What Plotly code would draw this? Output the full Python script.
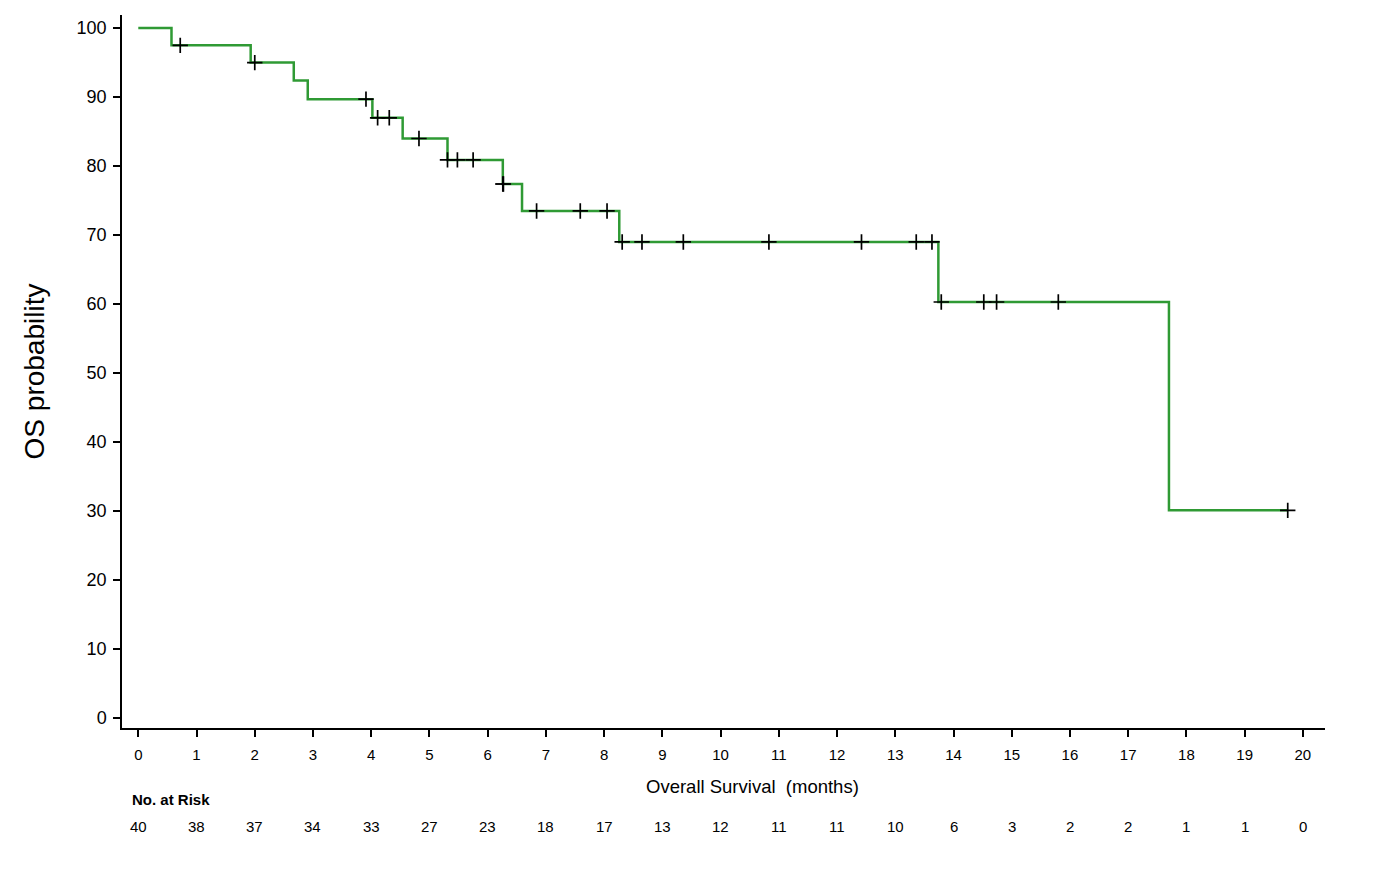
import plotly.graph_objects as go

# Kaplan-Meier step curve (event times in months, survival % after each drop)
event_times = [0.57, 1.93, 2.67, 2.91, 4.02, 4.54, 5.31, 6.26, 6.59, 8.26, 13.74, 17.70]
survival = [97.5, 95.0, 92.4, 89.7, 87.0, 84.0, 80.9, 77.4, 73.5, 69.0, 60.3, 30.1]

# Censored observations (months)
censor_times = [0.72, 2.00, 3.91, 4.11, 4.31, 4.82, 5.31, 5.48, 5.75, 6.26, 6.27,
                6.84, 7.59, 8.05, 8.31, 8.65, 9.36, 10.83, 12.42, 13.36, 13.63,
                13.79, 14.52, 14.74, 15.80, 19.74]

# Number at risk
risk_times = list(range(0, 21))
at_risk = [40, 38, 37, 34, 33, 27, 23, 18, 17, 13, 12, 11, 11, 10, 6, 3, 2, 2, 1, 1, 0]

x_ticks = list(range(0, 21))
y_ticks = list(range(0, 101, 10))


def surv_at(t):
    s = 100.0
    for et, sv in zip(event_times, survival):
        if et <= t:
            s = sv
    return s


line_x = [0] + event_times + [max(censor_times)]
line_y = [100] + survival + [survival[-1]]

censor_y = [surv_at(t) for t in censor_times]

fig = go.Figure()
fig.add_trace(go.Scatter(x=line_x, y=line_y, mode="lines", line=dict(color="#2f9a34", width=2.5, shape="hv"),
                         hoverinfo="skip", showlegend=False))
fig.add_trace(go.Scatter(x=censor_times, y=censor_y, mode="markers",
                         marker=dict(symbol="cross-thin", size=11, line=dict(color="black", width=1.7)),
                         showlegend=False))

font_family = "Liberation Sans, Arial, sans-serif"

annotations = []
for t, n in zip(risk_times, at_risk):
    annotations.append(dict(x=t, y=-0.1375, xref="x", yref="paper", text=str(n), showarrow=False,
                            xanchor="center", yanchor="middle", font=dict(size=15, color="black")))
annotations.append(dict(x=0.0067, y=-0.1, xref="paper", yref="paper", text="<b>No. at Risk</b>",
                        showarrow=False, xanchor="left", yanchor="middle", font=dict(size=15, color="black")))
annotations.append(dict(x=0.5237, y=-0.0814, xref="paper", yref="paper", text="Overall Survival  (months)",
                        showarrow=False, xanchor="center", yanchor="middle", font=dict(size=18.5, color="black")))

fig.update_layout(
    width=1393, height=879,
    margin=dict(l=114, r=76, t=7, b=159),
    paper_bgcolor="white", plot_bgcolor="white",
    font=dict(family=font_family, color="black"),
    annotations=annotations,
    xaxis=dict(range=[-0.28, 20.38], tickvals=x_ticks, ticktext=[str(v) for v in x_ticks],
               showline=True, linecolor="black", linewidth=1.5, ticks="outside", ticklen=7,
               tickwidth=1.5, tickcolor="black", showgrid=False, zeroline=False,
               tickfont=dict(size=15), ticklabelstandoff=5),
    yaxis=dict(range=[-1.45, 101.9], tickvals=y_ticks, showline=True, linecolor="black", linewidth=1.5,
               ticks="outside", ticklen=7, tickwidth=1.5, tickcolor="black", showgrid=False,
               zeroline=False, tickfont=dict(size=18), ticklabelstandoff=3,
               title=dict(text="OS probability", font=dict(size=28), standoff=24)),
)

fig.write_html("out.html")
